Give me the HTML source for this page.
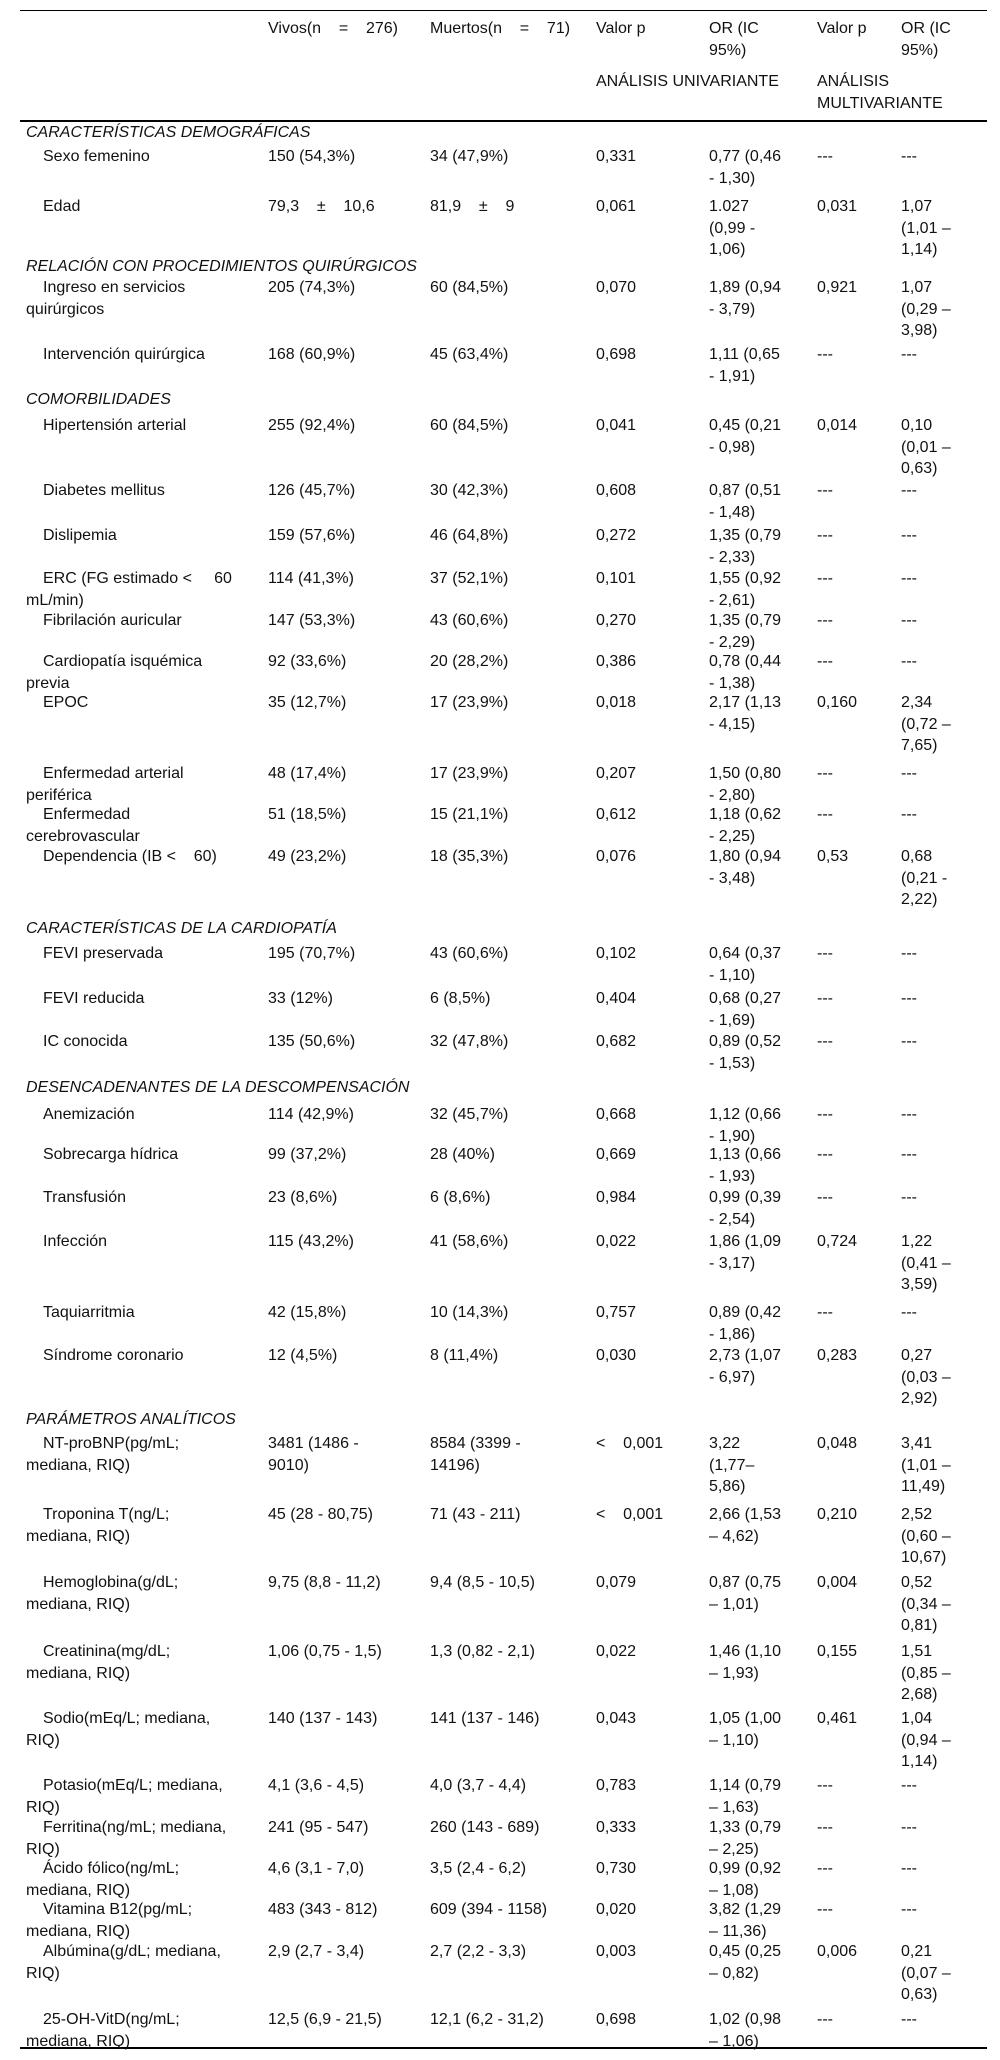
<!DOCTYPE html>
<html><head><meta charset="utf-8"><style>
body{margin:0;background:#fff;width:1000px;height:2060px;position:relative;font-family:"Liberation Sans",Arial,sans-serif;font-size:16px;color:#111;overflow:hidden}
.r{position:absolute;left:0;width:1000px;line-height:21.7px;white-space:pre}
.r>div{position:absolute;top:0}
.c0{left:26px;text-indent:17px}
.c1{left:268px}.c2{left:430px}.c3{left:596px}.c4{left:709px}.c5{left:817px}.c6{left:901px}
.s{position:absolute;left:26px;font-style:italic;line-height:21.7px}
.ln{position:absolute;left:20px;width:967px;background:#000}
</style></head><body>
<div class="ln" style="top:10px;height:1px"></div>
<div class="ln" style="top:120px;height:2px"></div>
<div class="ln" style="top:2047px;height:2px"></div>

<div class="r" style="top:18px"><div class="c1">Vivos(n    =    276)</div><div class="c2">Muertos(n    =    71)</div><div class="c3">Valor p</div><div class="c4">OR (IC<br>95%)</div><div class="c5">Valor p</div><div class="c6">OR (IC<br>95%)</div></div>
<div class="r" style="top:71px"><div class="c3">ANÁLISIS UNIVARIANTE</div><div class="c5">ANÁLISIS<br>MULTIVARIANTE</div></div>

<div class="s" style="top:122px">CARACTERÍSTICAS DEMOGRÁFICAS</div>
<div class="r" style="top:146px"><div class="c0">Sexo femenino</div><div class="c1">150 (54,3%)</div><div class="c2">34 (47,9%)</div><div class="c3">0,331</div><div class="c4">0,77 (0,46<br>- 1,30)</div><div class="c5">---</div><div class="c6">---</div></div>
<div class="r" style="top:196px"><div class="c0">Edad</div><div class="c1">79,3    ±    10,6</div><div class="c2">81,9    ±    9</div><div class="c3">0,061</div><div class="c4">1.027<br>(0,99 -<br>1,06)</div><div class="c5">0,031</div><div class="c6">1,07<br>(1,01 –<br>1,14)</div></div>

<div class="s" style="top:256px">RELACIÓN CON PROCEDIMIENTOS QUIRÚRGICOS</div>
<div class="r" style="top:277px"><div class="c0">Ingreso en servicios<br>quirúrgicos</div><div class="c1">205 (74,3%)</div><div class="c2">60 (84,5%)</div><div class="c3">0,070</div><div class="c4">1,89 (0,94<br>- 3,79)</div><div class="c5">0,921</div><div class="c6">1,07<br>(0,29 –<br>3,98)</div></div>
<div class="r" style="top:344px"><div class="c0">Intervención quirúrgica</div><div class="c1">168 (60,9%)</div><div class="c2">45 (63,4%)</div><div class="c3">0,698</div><div class="c4">1,11 (0,65<br>- 1,91)</div><div class="c5">---</div><div class="c6">---</div></div>

<div class="s" style="top:389px">COMORBILIDADES</div>
<div class="r" style="top:415px"><div class="c0">Hipertensión arterial</div><div class="c1">255 (92,4%)</div><div class="c2">60 (84,5%)</div><div class="c3">0,041</div><div class="c4">0,45 (0,21<br>- 0,98)</div><div class="c5">0,014</div><div class="c6">0,10<br>(0,01 –<br>0,63)</div></div>
<div class="r" style="top:480px"><div class="c0">Diabetes mellitus</div><div class="c1">126 (45,7%)</div><div class="c2">30 (42,3%)</div><div class="c3">0,608</div><div class="c4">0,87 (0,51<br>- 1,48)</div><div class="c5">---</div><div class="c6">---</div></div>
<div class="r" style="top:525px"><div class="c0">Dislipemia</div><div class="c1">159 (57,6%)</div><div class="c2">46 (64,8%)</div><div class="c3">0,272</div><div class="c4">1,35 (0,79<br>- 2,33)</div><div class="c5">---</div><div class="c6">---</div></div>
<div class="r" style="top:568px"><div class="c0">ERC (FG estimado &lt;     60<br>mL/min)</div><div class="c1">114 (41,3%)</div><div class="c2">37 (52,1%)</div><div class="c3">0,101</div><div class="c4">1,55 (0,92<br>- 2,61)</div><div class="c5">---</div><div class="c6">---</div></div>
<div class="r" style="top:610px"><div class="c0">Fibrilación auricular</div><div class="c1">147 (53,3%)</div><div class="c2">43 (60,6%)</div><div class="c3">0,270</div><div class="c4">1,35 (0,79<br>- 2,29)</div><div class="c5">---</div><div class="c6">---</div></div>
<div class="r" style="top:651px"><div class="c0">Cardiopatía isquémica<br>previa</div><div class="c1">92 (33,6%)</div><div class="c2">20 (28,2%)</div><div class="c3">0,386</div><div class="c4">0,78 (0,44<br>- 1,38)</div><div class="c5">---</div><div class="c6">---</div></div>
<div class="r" style="top:692px"><div class="c0">EPOC</div><div class="c1">35 (12,7%)</div><div class="c2">17 (23,9%)</div><div class="c3">0,018</div><div class="c4">2,17 (1,13<br>- 4,15)</div><div class="c5">0,160</div><div class="c6">2,34<br>(0,72 –<br>7,65)</div></div>
<div class="r" style="top:763px"><div class="c0">Enfermedad arterial<br>periférica</div><div class="c1">48 (17,4%)</div><div class="c2">17 (23,9%)</div><div class="c3">0,207</div><div class="c4">1,50 (0,80<br>- 2,80)</div><div class="c5">---</div><div class="c6">---</div></div>
<div class="r" style="top:804px"><div class="c0">Enfermedad<br>cerebrovascular</div><div class="c1">51 (18,5%)</div><div class="c2">15 (21,1%)</div><div class="c3">0,612</div><div class="c4">1,18 (0,62<br>- 2,25)</div><div class="c5">---</div><div class="c6">---</div></div>
<div class="r" style="top:846px"><div class="c0">Dependencia (IB &lt;    60)</div><div class="c1">49 (23,2%)</div><div class="c2">18 (35,3%)</div><div class="c3">0,076</div><div class="c4">1,80 (0,94<br>- 3,48)</div><div class="c5">0,53</div><div class="c6">0,68<br>(0,21 -<br>2,22)</div></div>

<div class="s" style="top:918px">CARACTERÍSTICAS DE LA CARDIOPATÍA</div>
<div class="r" style="top:943px"><div class="c0">FEVI preservada</div><div class="c1">195 (70,7%)</div><div class="c2">43 (60,6%)</div><div class="c3">0,102</div><div class="c4">0,64 (0,37<br>- 1,10)</div><div class="c5">---</div><div class="c6">---</div></div>
<div class="r" style="top:988px"><div class="c0">FEVI reducida</div><div class="c1">33 (12%)</div><div class="c2">6 (8,5%)</div><div class="c3">0,404</div><div class="c4">0,68 (0,27<br>- 1,69)</div><div class="c5">---</div><div class="c6">---</div></div>
<div class="r" style="top:1031px"><div class="c0">IC conocida</div><div class="c1">135 (50,6%)</div><div class="c2">32 (47,8%)</div><div class="c3">0,682</div><div class="c4">0,89 (0,52<br>- 1,53)</div><div class="c5">---</div><div class="c6">---</div></div>

<div class="s" style="top:1077px">DESENCADENANTES DE LA DESCOMPENSACIÓN</div>
<div class="r" style="top:1104px"><div class="c0">Anemización</div><div class="c1">114 (42,9%)</div><div class="c2">32 (45,7%)</div><div class="c3">0,668</div><div class="c4">1,12 (0,66<br>- 1,90)</div><div class="c5">---</div><div class="c6">---</div></div>
<div class="r" style="top:1144px"><div class="c0">Sobrecarga hídrica</div><div class="c1">99 (37,2%)</div><div class="c2">28 (40%)</div><div class="c3">0,669</div><div class="c4">1,13 (0,66<br>- 1,93)</div><div class="c5">---</div><div class="c6">---</div></div>
<div class="r" style="top:1187px"><div class="c0">Transfusión</div><div class="c1">23 (8,6%)</div><div class="c2">6 (8,6%)</div><div class="c3">0,984</div><div class="c4">0,99 (0,39<br>- 2,54)</div><div class="c5">---</div><div class="c6">---</div></div>
<div class="r" style="top:1231px"><div class="c0">Infección</div><div class="c1">115 (43,2%)</div><div class="c2">41 (58,6%)</div><div class="c3">0,022</div><div class="c4">1,86 (1,09<br>- 3,17)</div><div class="c5">0,724</div><div class="c6">1,22<br>(0,41 –<br>3,59)</div></div>
<div class="r" style="top:1302px"><div class="c0">Taquiarritmia</div><div class="c1">42 (15,8%)</div><div class="c2">10 (14,3%)</div><div class="c3">0,757</div><div class="c4">0,89 (0,42<br>- 1,86)</div><div class="c5">---</div><div class="c6">---</div></div>
<div class="r" style="top:1345px"><div class="c0">Síndrome coronario</div><div class="c1">12 (4,5%)</div><div class="c2">8 (11,4%)</div><div class="c3">0,030</div><div class="c4">2,73 (1,07<br>- 6,97)</div><div class="c5">0,283</div><div class="c6">0,27<br>(0,03 –<br>2,92)</div></div>

<div class="s" style="top:1409px">PARÁMETROS ANALÍTICOS</div>
<div class="r" style="top:1433px"><div class="c0">NT-proBNP(pg/mL;<br>mediana, RIQ)</div><div class="c1">3481 (1486 -<br>9010)</div><div class="c2">8584 (3399 -<br>14196)</div><div class="c3">&lt;    0,001</div><div class="c4">3,22<br>(1,77–<br>5,86)</div><div class="c5">0,048</div><div class="c6">3,41<br>(1,01 –<br>11,49)</div></div>
<div class="r" style="top:1504px"><div class="c0">Troponina T(ng/L;<br>mediana, RIQ)</div><div class="c1">45 (28 - 80,75)</div><div class="c2">71 (43 - 211)</div><div class="c3">&lt;    0,001</div><div class="c4">2,66 (1,53<br>– 4,62)</div><div class="c5">0,210</div><div class="c6">2,52<br>(0,60 –<br>10,67)</div></div>
<div class="r" style="top:1572px"><div class="c0">Hemoglobina(g/dL;<br>mediana, RIQ)</div><div class="c1">9,75 (8,8 - 11,2)</div><div class="c2">9,4 (8,5 - 10,5)</div><div class="c3">0,079</div><div class="c4">0,87 (0,75<br>– 1,01)</div><div class="c5">0,004</div><div class="c6">0,52<br>(0,34 –<br>0,81)</div></div>
<div class="r" style="top:1641px"><div class="c0">Creatinina(mg/dL;<br>mediana, RIQ)</div><div class="c1">1,06 (0,75 - 1,5)</div><div class="c2">1,3 (0,82 - 2,1)</div><div class="c3">0,022</div><div class="c4">1,46 (1,10<br>– 1,93)</div><div class="c5">0,155</div><div class="c6">1,51<br>(0,85 –<br>2,68)</div></div>
<div class="r" style="top:1708px"><div class="c0">Sodio(mEq/L; mediana,<br>RIQ)</div><div class="c1">140 (137 - 143)</div><div class="c2">141 (137 - 146)</div><div class="c3">0,043</div><div class="c4">1,05 (1,00<br>– 1,10)</div><div class="c5">0,461</div><div class="c6">1,04<br>(0,94 –<br>1,14)</div></div>
<div class="r" style="top:1775px"><div class="c0">Potasio(mEq/L; mediana,<br>RIQ)</div><div class="c1">4,1 (3,6 - 4,5)</div><div class="c2">4,0 (3,7 - 4,4)</div><div class="c3">0,783</div><div class="c4">1,14 (0,79<br>– 1,63)</div><div class="c5">---</div><div class="c6">---</div></div>
<div class="r" style="top:1817px"><div class="c0">Ferritina(ng/mL; mediana,<br>RIQ)</div><div class="c1">241 (95 - 547)</div><div class="c2">260 (143 - 689)</div><div class="c3">0,333</div><div class="c4">1,33 (0,79<br>– 2,25)</div><div class="c5">---</div><div class="c6">---</div></div>
<div class="r" style="top:1858px"><div class="c0">Ácido fólico(ng/mL;<br>mediana, RIQ)</div><div class="c1">4,6 (3,1 - 7,0)</div><div class="c2">3,5 (2,4 - 6,2)</div><div class="c3">0,730</div><div class="c4">0,99 (0,92<br>– 1,08)</div><div class="c5">---</div><div class="c6">---</div></div>
<div class="r" style="top:1899px"><div class="c0">Vitamina B12(pg/mL;<br>mediana, RIQ)</div><div class="c1">483 (343 - 812)</div><div class="c2">609 (394 - 1158)</div><div class="c3">0,020</div><div class="c4">3,82 (1,29<br>– 11,36)</div><div class="c5">---</div><div class="c6">---</div></div>
<div class="r" style="top:1941px"><div class="c0">Albúmina(g/dL; mediana,<br>RIQ)</div><div class="c1">2,9 (2,7 - 3,4)</div><div class="c2">2,7 (2,2 - 3,3)</div><div class="c3">0,003</div><div class="c4">0,45 (0,25<br>– 0,82)</div><div class="c5">0,006</div><div class="c6">0,21<br>(0,07 –<br>0,63)</div></div>
<div class="r" style="top:2009px"><div class="c0">25-OH-VitD(ng/mL;<br>mediana, RIQ)</div><div class="c1">12,5 (6,9 - 21,5)</div><div class="c2">12,1 (6,2 - 31,2)</div><div class="c3">0,698</div><div class="c4">1,02 (0,98<br>– 1,06)</div><div class="c5">---</div><div class="c6">---</div></div>
</body></html>
